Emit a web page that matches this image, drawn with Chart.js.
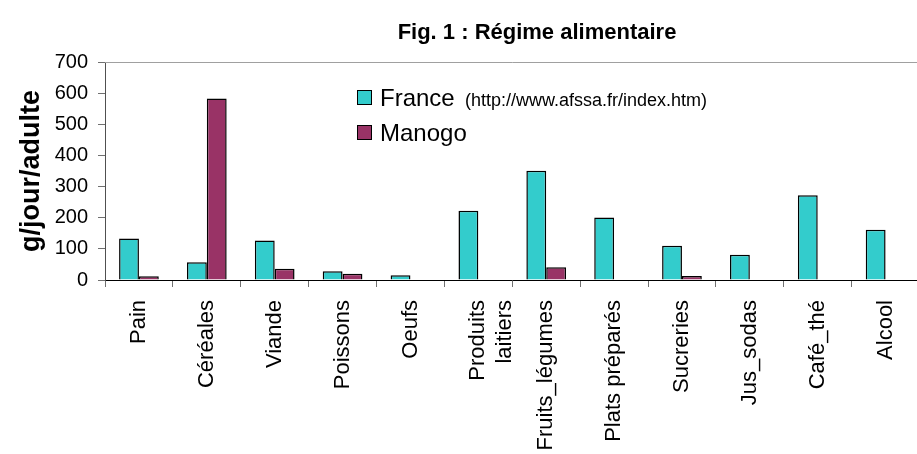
<!DOCTYPE html>
<html>
<head>
<meta charset="utf-8">
<script src="https://cdn.jsdelivr.net/npm/chart.js@4/dist/chart.umd.min.js"></script>
<style>
  html, body { margin: 0; padding: 0; background: #fff; overflow: hidden; }
  #wrap { width: 925px; height: 454px; }
</style>
</head>
<body>
<div id="wrap"><canvas id="c" width="925" height="454"></canvas></div>
<script>
const categories = ['Pain', 'Céréales', 'Viande', 'Poissons', 'Oeufs', ['Produits', 'laitiers'], 'Fruits_légumes', 'Plats préparés', 'Sucreries', 'Jus_sodas', 'Café_thé', 'Alcool'];
const franceValues = [133, 57, 127, 28, 15, 222, 351, 201, 110, 81, 272, 161];
const manogoValues = [12, 583, 36, 20, null, null, 41, null, 13, null, null, null];
const seriesNames = ['France', 'Manogo'];
const legendNote = '(http://www.afssa.fr/index.htm)';
const chartTitle = 'Fig. 1 : Régime alimentaire';
const yAxisTitle = 'g/jour/adulte';
const yMin = 0, yMax = 700, yStep = 100;

const FONT = "'Liberation Sans', Arial, sans-serif";
const colors = ['#33CCCC', '#993366'];

const decorPlugin = {
  id: 'decor',
  afterDraw(chart) {
    const ctx = chart.ctx;
    const a = chart.chartArea;
    ctx.save();
    // top border of plot area
    ctx.strokeStyle = '#a0a0a0';
    ctx.lineWidth = 1;
    ctx.beginPath();
    ctx.moveTo(a.left, a.top + 0.5);
    ctx.lineTo(a.right, a.top + 0.5);
    ctx.stroke();
    // title
    ctx.fillStyle = '#000';
    ctx.font = 'bold 22px ' + FONT;
    ctx.textAlign = 'center';
    ctx.textBaseline = 'alphabetic';
    ctx.fillText(chartTitle, 537, 39);
    // legend
    const items = chart.data.datasets;
    const rows = [106, 141];
    items.forEach((ds, i) => {
      const yb = rows[i];
      ctx.fillStyle = ds.backgroundColor;
      ctx.fillRect(357.5, yb - 15.5, 14, 14);
      ctx.strokeStyle = '#000';
      ctx.lineWidth = 1;
      ctx.strokeRect(357.5, yb - 15.5, 14, 14);
      ctx.fillStyle = '#000';
      ctx.textAlign = 'left';
      ctx.font = '24px ' + FONT;
      ctx.fillText(ds.label, 380, yb);
      if (i === 0) {
        ctx.font = '18px ' + FONT;
        ctx.fillText(legendNote, 465, yb);
      }
    });
    ctx.restore();
  }
};

new Chart(document.getElementById('c'), {
  type: 'bar',
  data: {
    labels: categories,
    datasets: [
      { label: seriesNames[0], data: franceValues, backgroundColor: colors[0], borderColor: '#000', borderWidth: 1.5 },
      { label: seriesNames[1], data: manogoValues, backgroundColor: colors[1], borderColor: '#000', borderWidth: 1.5 }
    ]
  },
  options: {
    responsive: false,
    animation: false,
    devicePixelRatio: 1,
    layout: { padding: { top: 62, left: 0, right: 0, bottom: 0 } },
    datasets: { bar: { categoryPercentage: 0.585, barPercentage: 1.0 } },
    plugins: {
      legend: { display: false },
      title: { display: false },
      tooltip: { enabled: false }
    },
    scales: {
      x: {
        offset: true,
        grid: { display: true, drawOnChartArea: false, drawTicks: true, tickLength: 7, color: '#707070', offset: true },
        border: { display: true, color: '#000', width: 1 },
        ticks: { minRotation: 90, maxRotation: 90, autoSkip: false, padding: 13, color: '#000', font: { family: FONT, size: 22 } },
        afterFit(s) { s.height = 174; }
      },
      y: {
        min: yMin, max: yMax,
        grid: { display: true, drawOnChartArea: false, drawTicks: true, tickLength: 7, color: '#707070' },
        border: { display: true, color: '#505050', width: 1 },
        ticks: { stepSize: yStep, padding: 10, color: '#000', font: { family: FONT, size: 20 } },
        title: { display: true, text: yAxisTitle, color: '#000', font: { family: FONT, size: 27, weight: 'bold' }, padding: { top: 15, bottom: 0 } },
        afterFit(s) { s.width = 105; }
      }
    }
  },
  plugins: [decorPlugin]
});
</script>
</body>
</html>
